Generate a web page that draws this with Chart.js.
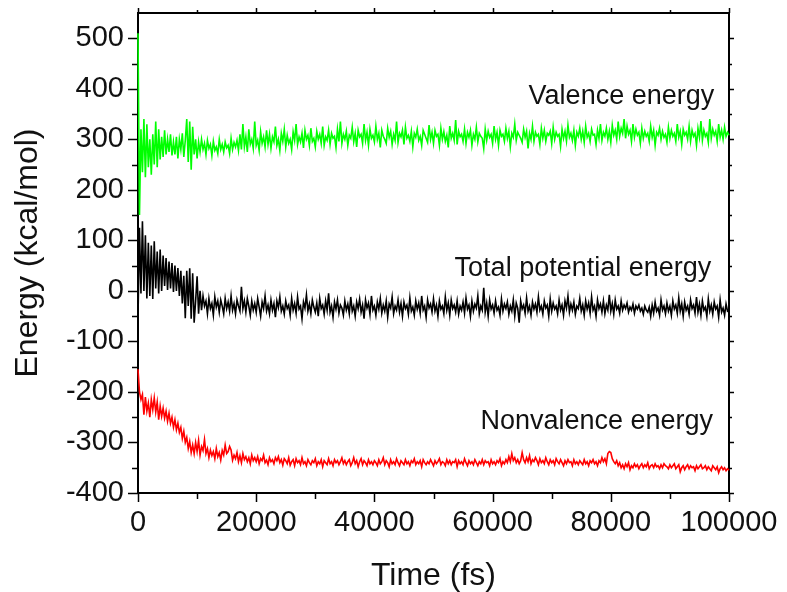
<!DOCTYPE html>
<html>
<head>
<meta charset="utf-8">
<script src="https://cdn.jsdelivr.net/npm/chart.js@4/dist/chart.umd.min.js"></script>
<style>
  html, body { margin: 0; padding: 0; background: #fff; }
  canvas { display: block; }
</style>
</head>
<body>
<canvas id="energyChart" width="787" height="592"></canvas>
<script>
// sampled every 250 fs from 0 to 100000 fs
const STEP = 250
const times = Array.from({ length: 401 }, (_, i) => i * STEP)

const valence = [
  510, 150, 320, 235, 340, 225, 330, 245, 300, 230, 310, 250, 335, 245, 320, 260, 305, 265, 318, 270,
  300, 275, 310, 268, 295, 270, 305, 262, 300, 280, 312, 265, 298, 340, 255, 335, 240, 325, 270, 300,
  262, 295, 275, 300, 280, 292, 270, 298, 282, 290, 268, 296, 278, 285, 272, 300, 280, 290, 275, 295,
  283, 288, 272, 302, 280, 294, 285, 298, 278, 310, 280, 330, 285, 305, 275, 320, 290, 300, 282, 335,
  288, 298, 278, 315, 292, 305, 285, 318, 290, 310, 282, 305, 295, 325, 288, 300, 278, 312, 296, 320,
  285, 308, 292, 300, 280, 315, 298, 330, 290, 305, 295, 312, 283, 318, 300, 308, 288, 322, 296, 302,
  285, 316, 300, 310, 292, 325, 288, 305, 298, 318, 290, 312, 302, 306, 284, 320, 296, 335, 292, 310,
  300, 316, 288, 308, 302, 324, 295, 312, 285, 318, 305, 310, 292, 330, 298, 314, 288, 320, 302, 308,
  295, 326, 300, 312, 284, 318, 306, 300, 292, 322, 304, 316, 290, 310, 298, 335, 294, 312, 305, 318,
  290, 324, 302, 308, 296, 316, 285, 312, 304, 320, 298, 306, 288, 318, 310, 302, 294, 328, 300, 314,
  292, 318, 306, 310, 288, 322, 300, 315, 296, 308, 284, 326, 302, 312, 298, 338, 290, 316, 305, 310,
  296, 320, 292, 314, 304, 318, 288, 310, 300, 324, 295, 312, 306, 302, 282, 320, 298, 316, 304, 310,
  292, 326, 300, 314, 288, 318, 306, 310, 296, 322, 302, 316, 285, 312, 304, 330, 298, 314, 308, 302,
  294, 320, 304, 316, 282, 312, 300, 326, 296, 314, 306, 310, 290, 322, 302, 318, 296, 312, 308, 316,
  292, 324, 300, 314, 306, 310, 286, 320, 302, 316, 296, 328, 304, 312, 298, 318, 288, 314, 306, 322,
  300, 316, 294, 326, 304, 312, 296, 320, 308, 310, 290, 318, 302, 330, 298, 314, 306, 322, 300, 316,
  294, 328, 308, 318, 300, 335, 306, 322, 312, 340, 302, 326, 310, 318, 296, 330, 304, 320, 308, 314,
  292, 322, 302, 316, 306, 312, 296, 326, 304, 318, 288, 314, 308, 322, 300, 316, 304, 310, 294, 324,
  302, 318, 306, 312, 296, 330, 304, 316, 290, 320, 308, 314, 300, 326, 296, 318, 306, 312, 288, 322,
  304, 336, 298, 318, 306, 312, 294, 340, 302, 320, 308, 316, 296, 330, 304, 318, 300, 324, 306, 314,
  308
]

const totalPotential = [
  -55, 125, -5, 138, 0, 110, -15, 95, -10, 90, -16, 98, 5, 78, -5, 82, 0, 70, 10, 65,
  2, 58, 5, 55, -2, 50, 0, 45, -10, 40, -25, 30, -54, 40, -30, 45, -55, 35, -63, -20,
  29, -45, 0, -38, -10, -30, -20, -45, -15, -35, -25, -48, -12, -32, -20, -42, -18, -30, -45, -15,
  -35, -22, -40, -10, -38, -25, -45, -18, -30, -40, 8, -35, -20, -42, -15, -30, -48, -20, -38, -25,
  -42, -15, -32, -50, -22, -35, -10, -40, -28, -45, -18, -38, -25, -52, -20, -33, -12, -40, -30, -46,
  -20, -35, -28, -48, -15, -38, -25, -44, -12, -36, -30, -55, -22, -34, -8, -40, -26, -45, -18, -32,
  -42, -24, -50, -15, -35, -28, -46, -20, -38, -5, -42, -30, -52, -22, -36, -18, -44, -28, -34, -48,
  -20, -38, -26, -45, -12, -40, -30, -50, -22, -35, -16, -42, -28, -55, -18, -34, -24, -46, -10, -38,
  -30, -48, -22, -36, -15, -44, -28, -40, -20, -52, -26, -34, -12, -45, -30, -38, -18, -42, -25, -50,
  -22, -35, -28, -46, -14, -40, -32, -48, -20, -36, -24, -44, -10, -38, -30, -52, -18, -34, -26, -42,
  -16, -40, -28, -50, -20, -36, -30, -45, -12, -38, -24, -48, -18, -35, -28, -42, -20, -46, -30, -38,
  -22, -44, -14, -36, -28, -50, -20, -40, -26, -34, -10, -45, -30, -38, 6, -42, -24, -50, -18, -36,
  -28, -44, -20, -38, -32, -48, -16, -40, -26, -35, -22, -46, -30, -40, -18, -50, -24, -34, -63, -20,
  -36, -28, -44, -14, -40, -30, -48, -22, -36, -26, -42, -12, -38, -30, -46, -20, -34, -28, -50, -16,
  -40, -24, -36, -30, -45, -18, -38, -28, -48, -20, -34, -10, -42, -26, -38, -22, -46, -30, -35, -15,
  -40, -28, -48, -20, -36, -24, -44, -12, -38, -30, -50, -18, -35, -26, -42, -20, -45, -28, -38, -8,
  -40, -25, -46, -18, -36, -30, -44, -20, -38, -28, -35, -24, -42, -32, -38, -26, -44, -30, -36, -28,
  -40, -34, -46, -30, -38, -42, -32, -50, -28, -44, -22, -40, -34, -48, -18, -38, -30, -45, -24, -40,
  -30, -48, -20, -36, -28, -44, -14, -40, -26, -50, -22, -38, -30, -46, -18, -35, -28, -44, -12, -42,
  -26, -48, -20, -38, -32, -50, -16, -40, -28, -46, -22, -36, -30, -52, -18, -42, -34, -48, -26, -40,
  -38
]

const nonvalence = [
  -155, -200, -215, -205, -245, -210, -238, -222, -250, -215, -235, -212, -240, -220, -255, -228, -248, -232, -252, -238,
  -258, -242, -262, -250, -270, -255, -275, -262, -280, -270, -292, -278, -300, -290, -312, -298, -320, -305, -322, -300,
  -318, -296, -325, -308, -316, -294, -322, -312, -330, -315, -326, -318, -332, -312, -328, -320, -335, -316, -325, -305,
  -322, -318, -308, -315, -335, -325, -332, -320, -338, -326, -340, -322, -334, -328, -338, -330, -342, -325, -336, -330,
  -338, -328, -342, -332, -336, -325, -340, -335, -344, -330, -338, -334, -342, -330, -336, -328, -340, -334, -345, -332,
  -336, -342, -330, -345, -338, -334, -346, -332, -340, -336, -344, -330, -342, -338, -346, -334, -340, -344, -336, -340,
  -332, -346, -338, -342, -334, -348, -336, -340, -344, -332, -342, -338, -346, -334, -340, -336, -344, -338, -330, -342,
  -336, -344, -338, -334, -346, -340, -330, -342, -336, -348, -338, -332, -344, -336, -340, -346, -334, -342, -338, -344,
  -336, -340, -346, -334, -342, -338, -330, -344, -336, -340, -348, -334, -342, -338, -344, -332, -340, -346, -336, -340,
  -344, -334, -342, -338, -346, -336, -340, -332, -344, -338, -342, -336, -348, -334, -340, -344, -338, -342, -334, -340,
  -346, -336, -342, -338, -332, -344, -338, -340, -346, -334, -342, -336, -344, -338, -340, -334, -348, -336, -342, -338,
  -344, -332, -340, -346, -336, -342, -338, -344, -334, -340, -346, -338, -342, -334, -344, -336, -340, -338, -346, -334,
  -342, -338, -344, -336, -340, -332, -346, -338, -342, -334, -340, -328, -338, -322, -336, -330, -340, -334, -342, -336,
  -320, -334, -340, -330, -338, -326, -342, -334, -338, -330, -336, -344, -332, -340, -336, -342, -330, -338, -344, -334,
  -340, -336, -344, -332, -338, -342, -334, -340, -346, -336, -342, -334, -340, -338, -346, -334, -342, -338, -344, -336,
  -340, -344, -334, -342, -338, -346, -336, -340, -334, -342, -338, -346, -336, -340, -330, -338, -332, -342, -322, -318,
  -320, -332, -338, -342, -336, -346, -340, -350, -344, -352, -342, -348, -340, -354, -346, -350, -342, -348, -344, -352,
  -346, -342, -350, -344, -348, -340, -352, -346, -344, -350, -342, -348, -346, -352, -344, -350, -342, -346, -348, -352,
  -344, -350, -346, -342, -352, -348, -344, -358, -350, -346, -354, -348, -344, -352, -346, -350, -348, -356, -346, -352,
  -348, -344, -352, -350, -346, -354, -348, -352, -356, -346, -350, -354, -348, -360, -352, -348, -354, -350, -356, -352,
  -355
]

// text labels placed in data coordinates, right-aligned
const seriesLabels = [
  { text: 'Valence energy', t: 97500, e: 384 },
  { text: 'Total potential energy', t: 97000, e: 45 },
  { text: 'Nonvalence energy', t: 97300, e: -258 }
]

const FONT = '"Liberation Sans", Arial, sans-serif'

const toPoints = arr => arr.map((v, i) => ({ x: times[i], y: v }))

// full box around the plot plus outward tick marks on every side,
// drawn under the curves so the first samples stay visible on the left edge
const framePlugin = {
  id: 'frame',
  beforeDatasetsDraw(chart) {
    const { ctx, chartArea: a, scales } = chart
    ctx.save()
    ctx.strokeStyle = '#000'
    ctx.lineWidth = 2
    ctx.strokeRect(a.left, a.top, a.right - a.left, a.bottom - a.top)
    ctx.lineWidth = 1.5
    scales.x.ticks.forEach(t => {
      const px = Math.round(scales.x.getPixelForValue(t.value)) + 0.5
      const major = t.value % 20000 === 0
      ctx.beginPath()
      ctx.moveTo(px, a.bottom); ctx.lineTo(px, a.bottom + (major ? 9 : 6))
      ctx.moveTo(px, a.top); ctx.lineTo(px, a.top - (major ? 5 : 3))
      ctx.stroke()
    })
    scales.y.ticks.forEach(t => {
      if (t.value > 500) return
      const py = Math.round(scales.y.getPixelForValue(t.value)) + 0.5
      const major = t.value % 100 === 0
      ctx.beginPath()
      ctx.moveTo(a.left, py); ctx.lineTo(a.left - (major ? 10 : 6), py)
      ctx.moveTo(a.right, py); ctx.lineTo(a.right + (major ? 5 : 3), py)
      ctx.stroke()
    })
    ctx.restore()
  },
  afterDraw(chart) {
    const { ctx, scales } = chart
    ctx.save()
    ctx.fillStyle = '#111'
    ctx.font = '27px ' + FONT
    ctx.textAlign = 'right'
    ctx.textBaseline = 'middle'
    seriesLabels.forEach(l => {
      ctx.fillText(l.text, scales.x.getPixelForValue(l.t), scales.y.getPixelForValue(l.e))
    })
    ctx.restore()
  }
}

const line = (data, color) => ({
  data: toPoints(data),
  borderColor: color,
  borderWidth: 1.6,
  pointRadius: 0,
  tension: 0,
  fill: false,
  clip: 3
})

new Chart(document.getElementById('energyChart'), {
  type: 'line',
  data: {
    datasets: [
      line(valence, '#00ff00'),
      line(totalPotential, '#000000'),
      line(nonvalence, '#ff0000')
    ]
  },
  options: {
    responsive: false,
    animation: false,
    layout: { padding: { top: 13, right: 58, left: 0, bottom: 0 } },
    plugins: { legend: { display: false }, tooltip: { enabled: false } },
    scales: {
      x: {
        type: 'linear', min: 0, max: 100000,
        afterFit: s => { s.height = 99; s.paddingLeft = 0; s.paddingRight = 0 },
        ticks: {
          stepSize: 10000, autoSkip: false, maxRotation: 0, padding: 3,
          color: '#111', font: { family: FONT, size: 29 },
          callback: v => (v % 20000 === 0 ? String(v) : '')
        },
        grid: { drawOnChartArea: false, tickLength: 10, tickColor: 'rgba(0,0,0,0)' },
        border: { display: false },
        title: { display: true, text: 'Time (fs)', color: '#111', font: { family: FONT, size: 32 }, padding: { top: 10, bottom: -3 } }
      },
      y: {
        min: -400, max: 550,
        afterFit: s => { s.width = 138; s.paddingTop = 0; s.paddingBottom = 0 },
        ticks: {
          stepSize: 50, autoSkip: false, padding: 4,
          color: '#111', font: { family: FONT, size: 29 },
          callback: v => (v % 100 === 0 && v <= 500 ? String(v) : '')
        },
        grid: { drawOnChartArea: false, tickLength: 10, tickColor: 'rgba(0,0,0,0)' },
        border: { display: false },
        title: { display: true, text: 'Energy (kcal/mol)', color: '#111', font: { family: FONT, size: 32 }, padding: { top: 9, bottom: 0 } }
      }
    }
  },
  plugins: [framePlugin]
})
</script>
</body>
</html>
